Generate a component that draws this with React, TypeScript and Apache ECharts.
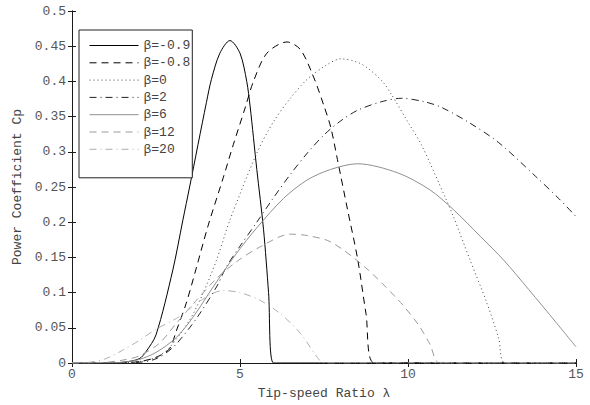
import React, { useEffect, useRef } from "react";
import * as echarts from "echarts";

const seriesNames = ["β=-0.9", "β=-0.8", "β=0", "β=2", "β=6", "β=12", "β=20"];

const lamA = [0, 1, 1.5, 2, 2.2, 2.5, 3, 3.3, 3.5, 4, 4.15, 4.4, 4.7, 5, 5.2, 5.3, 5.5, 5.7, 5.85, 6, 15];
const cpA = [0, 0.0003, 0.001, 0.006, 0.016, 0.04, 0.132, 0.203, 0.25, 0.37, 0.403, 0.44, 0.458, 0.44, 0.4, 0.365, 0.275, 0.19, 0.1, 0, 0];

const lamB = [0, 1, 1.5, 2, 2.5, 2.9, 3.1, 3.4, 3.7, 4.05, 4.5, 4.8, 5.15, 5.4, 5.8, 6.4, 6.8, 7.2, 7.5, 7.7, 7.9, 8.2, 8.5, 8.75, 9.0, 15];
const cpB = [0, 0, 0.0005, 0.002, 0.008, 0.02, 0.045, 0.085, 0.135, 0.195, 0.263, 0.31, 0.362, 0.4, 0.44, 0.456, 0.445, 0.405, 0.365, 0.335, 0.289, 0.218, 0.148, 0.07, 0, 0];

const lamC = [0, 1, 2, 2.5, 2.9, 3.5, 3.9, 4.3, 4.7, 5.5, 6, 6.5, 7, 7.6, 8, 8.6, 9.2, 9.5, 10, 10.4, 11.1, 11.35, 11.85, 12.35, 12.7, 12.9, 15];
const cpC = [0, 0, 0.002, 0.008, 0.022, 0.061, 0.099, 0.146, 0.203, 0.298, 0.343, 0.376, 0.403, 0.424, 0.432, 0.425, 0.402, 0.382, 0.342, 0.31, 0.236, 0.208, 0.146, 0.085, 0.035, 0, 0];

const lamD = [0, 1, 2, 2.5, 3, 3.5, 3.8, 4.3, 4.6, 5, 5.5, 6, 6.5, 7, 7.5, 8, 8.5, 9.2, 9.8, 10.5, 11, 11.8, 12.7, 13.8, 14.5, 15];
const cpD = [0, 0, 0.001, 0.006, 0.022, 0.05, 0.07, 0.108, 0.137, 0.166, 0.2, 0.235, 0.268, 0.298, 0.324, 0.344, 0.359, 0.371, 0.376, 0.371, 0.363, 0.342, 0.313, 0.265, 0.233, 0.208];

const lamE = [0, 1, 1.5, 2, 2.5, 3.1, 3.6, 4.2, 4.9, 5.5, 6.3, 7, 7.7, 8.5, 9.7, 10.65, 11.35, 12.15, 12.85, 13.6, 14.4, 15];
const cpE = [0, 0.0003, 0.001, 0.005, 0.015, 0.036, 0.065, 0.108, 0.156, 0.192, 0.234, 0.26, 0.275, 0.283, 0.27, 0.246, 0.218, 0.18, 0.146, 0.104, 0.058, 0.023];

const lamF = [0, 1, 1.5, 2, 2.6, 3.1, 3.7, 4.3, 4.9, 5.6, 6.5, 7.0, 7.7, 8.7, 9.7, 10.3, 10.65, 10.95, 15];
const cpF = [0, 0.001, 0.004, 0.01, 0.028, 0.056, 0.089, 0.12, 0.144, 0.165, 0.183, 0.181, 0.172, 0.137, 0.09, 0.055, 0.027, 0, 0];

const lamG = [0, 0.5, 1, 1.5, 2, 2.5, 3.2, 3.8, 4.5, 5, 5.6, 6.2, 6.8, 7.3, 7.5, 15];
const cpG = [0, 0.001, 0.006, 0.018, 0.032, 0.048, 0.066, 0.088, 0.103, 0.1, 0.089, 0.07, 0.042, 0.008, 0, 0];

const xTicks = [0, 5, 10, 15];
const yTicks = [0, 0.05, 0.1, 0.15, 0.2, 0.25, 0.3, 0.35, 0.4, 0.45, 0.5];

const lams = [lamA, lamB, lamC, lamD, lamE, lamF, lamG];
const cps = [cpA, cpB, cpC, cpD, cpE, cpF, cpG];

const styles: any[] = [
  { color: "#000000", type: "solid" },
  { color: "#000000", type: [7, 5] },
  { color: "#444444", type: [1, 3] },
  { color: "#222222", type: [7, 4, 1, 4] },
  { color: "#8f8f8f", type: "solid" },
  { color: "#9a9a9a", type: [7, 5] },
  { color: "#b0b0b0", type: [7, 4, 1, 4] },
];

const FONT = "'Liberation Mono', 'DejaVu Sans Mono', monospace";

export default function App() {
  const ref = useRef<HTMLDivElement>(null);
  useEffect(() => {
    if (!ref.current) return;
    document.body.style.margin = "0";
    const chart = echarts.init(ref.current, null, { renderer: "svg" });
    const axisLine = { show: true, lineStyle: { color: "#1a1a1a", width: 1 } };
    const tick = { show: true, inside: true, length: 4, lineStyle: { color: "#1a1a1a" } };
    const label = { color: "#555555", fontFamily: FONT, fontSize: 13 };
    chart.setOption({
      animation: false,
      backgroundColor: "#ffffff",
      grid: { left: 72, right: 14, top: 11, bottom: 42, containLabel: false },
      legend: {
        orient: "vertical",
        left: 79,
        top: 30,
        data: seriesNames,
        itemWidth: 49,
        itemHeight: 14,
        itemGap: 4.3,
        padding: [9, 2, 22, 10],
        borderColor: "#222222",
        borderWidth: 1,
        backgroundColor: "#ffffff",
        itemStyle: { opacity: 0 },
        lineStyle: { width: 1 },
        textStyle: { color: "#444444", fontFamily: FONT, fontSize: 13 },
      },
      xAxis: [
        {
          type: "value",
          min: 0,
          max: 15,
          interval: 5,
          name: "Tip-speed Ratio λ",
          nameLocation: "middle",
          nameGap: 24,
          nameTextStyle: { color: "#444444", fontFamily: FONT, fontSize: 13 },
          axisLine,
          axisTick: tick,
          axisLabel: { ...label, margin: 5, formatter: (v: number) => (xTicks.includes(v) ? String(v) : "") },
          splitLine: { show: false },
        },
        {
          type: "value",
          position: "top",
          min: 0,
          max: 15,
          interval: 5,
          axisLine,
          axisTick: tick,
          axisLabel: { show: false },
          splitLine: { show: false },
        },
      ],
      yAxis: [
        {
          type: "value",
          min: 0,
          max: 0.5,
          interval: 0.05,
          name: "Power Coefficient Cp",
          nameLocation: "middle",
          nameGap: 45,
          nameTextStyle: { color: "#444444", fontFamily: FONT, fontSize: 13 },
          axisLine,
          axisTick: tick,
          axisLabel: {
            ...label,
            margin: 6,
            formatter: (v: number) => {
              const t = yTicks.find((y) => Math.abs(y - v) < 1e-6);
              return t === undefined ? "" : String(t);
            },
          },
          splitLine: { show: false },
        },
        {
          type: "value",
          position: "right",
          min: 0,
          max: 0.5,
          interval: 0.05,
          axisLine,
          axisTick: tick,
          axisLabel: { show: false },
          splitLine: { show: false },
        },
      ],
      series: seriesNames.map((name, i) => ({
        name,
        type: "line",
        xAxisIndex: 0,
        yAxisIndex: 0,
        symbol: "none",
        smooth: 0.3,
        clip: true,
        color: styles[i].color,
        lineStyle: { color: styles[i].color, width: 1, type: styles[i].type },
        data: lams[i].map((x, j) => [x, cps[i][j]]),
      })),
    });
    return () => chart.dispose();
  }, []);
  return (
    <div
      ref={ref}
      style={{ position: "fixed", left: 0, top: 0, width: 590, height: 405 }}
    />
  );
}
